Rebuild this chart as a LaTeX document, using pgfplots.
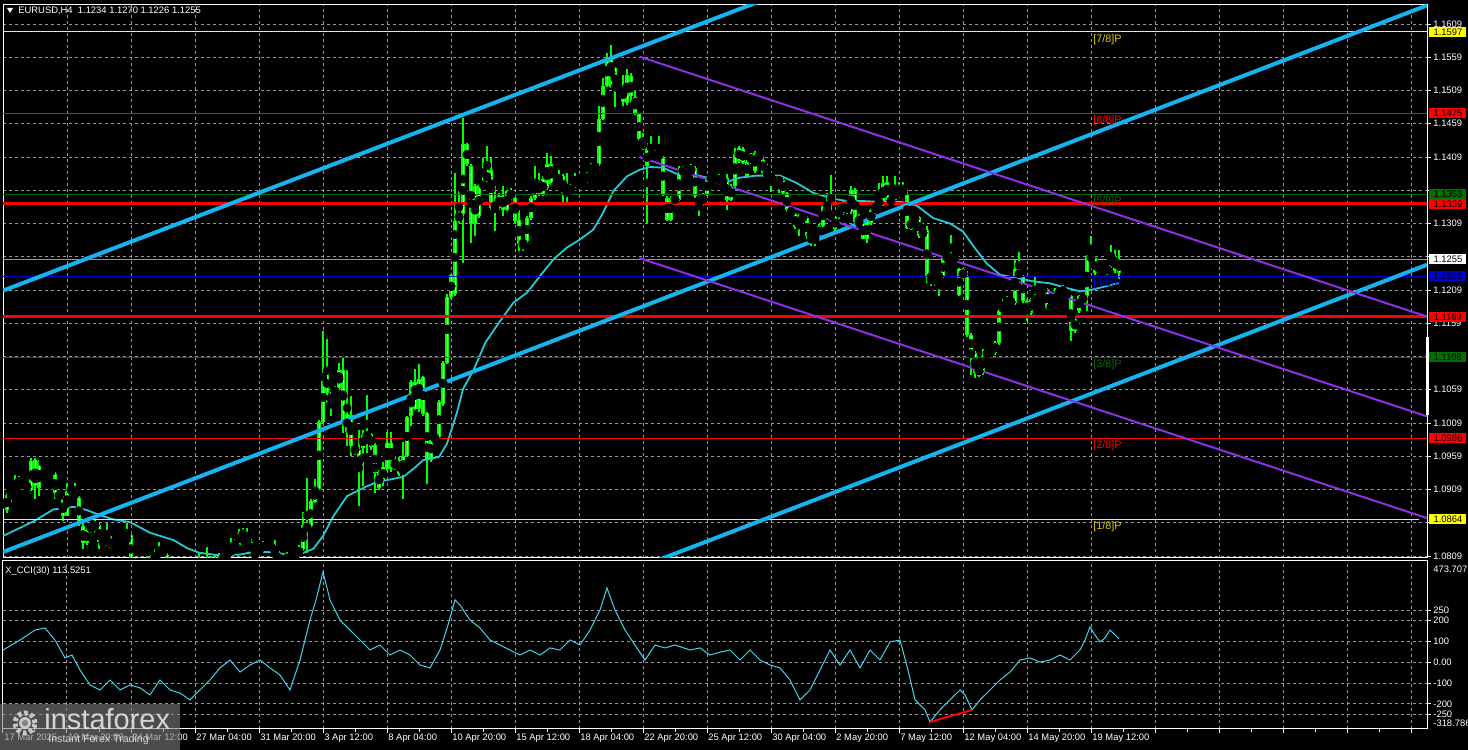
\documentclass[border=0pt]{standalone}
\usepackage{pgfplots}
\pgfplotsset{compat=1.18}
\usepackage{pgfplotstable}
\usepackage{fontspec}
\setmainfont{Liberation Sans}

\definecolor{cgreen}{RGB}{0,255,0}
\definecolor{cpale}{RGB}{200,255,200}
\definecolor{gridc}{RGB}{150,150,160}
\definecolor{macyan}{RGB}{40,200,210}
\definecolor{ccicyan}{RGB}{70,210,235}
\definecolor{tblue}{RGB}{20,180,240}
\definecolor{tpurple}{RGB}{140,50,230}
\definecolor{mgreen}{RGB}{0,110,0}
\definecolor{lblue}{RGB}{0,0,210}
\definecolor{pgray}{RGB}{150,150,150}
\definecolor{myellow}{RGB}{255,255,0}

\newcommand{\mtfont}{\fontsize{4.7}{5.2}\selectfont}
\newcommand{\mfont}{\fontsize{5.4}{6}\selectfont}
\newcommand{\pxy}[2]{({(#1)*0.5pt},{(750-(#2))*0.5pt})}

% EURUSD H4, bar i = 4 px
\pgfplotstableread{
i o h l c
0 1.0881 1.0896 1.0879 1.0894
1 1.0879 1.0904 1.0874 1.0901
2 1.0901 1.0911 1.0889 1.0908
3 1.0906 1.0931 1.0904 1.0916
4 1.0915 1.0929 1.0914 1.0925
5 1.0923 1.0925 1.0914 1.0915
6 1.0916 1.0919 1.0908 1.0910
7 1.0909 1.0956 1.0906 1.0952
8 1.0954 1.0956 1.0894 1.0914
9 1.0912 1.0954 1.0899 1.0952
10 1.0953 1.0955 1.0944 1.0946
11 1.0946 1.0949 1.0936 1.0938
12 1.0940 1.0942 1.0931 1.0933
13 1.0933 1.0935 1.0894 1.0904
14 1.0904 1.0906 1.0894 1.0895
15 1.0895 1.0899 1.0861 1.0870
16 1.0870 1.0919 1.0869 1.0907
17 1.0906 1.0914 1.0904 1.0910
18 1.0906 1.0919 1.0896 1.0898
19 1.0896 1.0899 1.0854 1.0858
20 1.0854 1.0858 1.0819 1.0828
21 1.0828 1.0850 1.0826 1.0848
22 1.0846 1.0859 1.0844 1.0856
23 1.0856 1.0864 1.0844 1.0854
24 1.0856 1.0859 1.0819 1.0830
25 1.0833 1.0836 1.0824 1.0826
26 1.0829 1.0859 1.0824 1.0835
27 1.0835 1.0839 1.0819 1.0821
28 1.0826 1.0829 1.0814 1.0815
29 1.0819 1.0830 1.0816 1.0828
30 1.0829 1.0836 1.0826 1.0833
31 1.0830 1.0859 1.0828 1.0841
32 1.0841 1.0844 1.0794 1.0799
33 1.0804 1.0806 1.0789 1.0791
34 1.0796 1.0808 1.0779 1.0784
35 1.0786 1.0801 1.0781 1.0796
36 1.0794 1.0809 1.0791 1.0801
37 1.0808 1.0811 1.0794 1.0799
38 1.0801 1.0819 1.0796 1.0814
39 1.0806 1.0830 1.0804 1.0820
40 1.0819 1.0821 1.0808 1.0811
41 1.0811 1.0814 1.0791 1.0794
42 1.0794 1.0804 1.0774 1.0779
43 1.0784 1.0794 1.0764 1.0769
44 1.0764 1.0789 1.0759 1.0779
45 1.0784 1.0794 1.0764 1.0769
46 1.0774 1.0799 1.0769 1.0789
47 1.0784 1.0794 1.0764 1.0769
48 1.0779 1.0786 1.0754 1.0764
49 1.0769 1.0814 1.0764 1.0784
50 1.0779 1.0801 1.0774 1.0794
51 1.0784 1.0822 1.0779 1.0799
52 1.0801 1.0809 1.0784 1.0789
53 1.0791 1.0811 1.0786 1.0804
54 1.0799 1.0814 1.0794 1.0809
55 1.0801 1.0814 1.0796 1.0811
56 1.0808 1.0816 1.0804 1.0814
57 1.0811 1.0836 1.0809 1.0821
58 1.0821 1.0834 1.0819 1.0830
59 1.0826 1.0849 1.0824 1.0844
60 1.0844 1.0851 1.0834 1.0836
61 1.0836 1.0851 1.0826 1.0829
62 1.0830 1.0834 1.0811 1.0814
63 1.0819 1.0821 1.0801 1.0806
64 1.0814 1.0824 1.0809 1.0819
65 1.0819 1.0831 1.0816 1.0827
66 1.0828 1.0830 1.0816 1.0819
67 1.0819 1.0829 1.0816 1.0826
68 1.0819 1.0833 1.0804 1.0806
69 1.0811 1.0816 1.0796 1.0801
70 1.0809 1.0814 1.0794 1.0799
71 1.0801 1.0815 1.0796 1.0811
72 1.0811 1.0814 1.0799 1.0804
73 1.0806 1.0816 1.0801 1.0814
74 1.0811 1.0826 1.0806 1.0821
75 1.0819 1.0875 1.0816 1.0855
76 1.0854 1.0926 1.0814 1.0851
77 1.0854 1.0894 1.0851 1.0891
78 1.0891 1.0925 1.0889 1.0910
79 1.0910 1.1014 1.0908 1.1010
80 1.1011 1.1147 1.1009 1.1084
81 1.1083 1.1136 1.1039 1.1054
82 1.1053 1.1055 1.1019 1.1039
83 1.1053 1.1064 1.1049 1.1061
84 1.1061 1.1099 1.1059 1.1089
85 1.1088 1.1109 1.0994 1.1011
86 1.1022 1.1089 1.0974 1.0996
87 1.1021 1.1049 1.0959 1.0974
88 1.0974 1.0976 1.0961 1.0964
89 1.0969 1.0999 1.0884 1.0935
90 1.0971 1.0999 1.0914 1.0991
91 1.0988 1.1051 1.0964 1.0992
92 1.0992 1.0994 1.0969 1.0973
93 1.0976 1.0979 1.0904 1.0934
94 1.0936 1.0939 1.0909 1.0911
95 1.0943 1.0950 1.0915 1.0923
96 1.0940 1.0995 1.0935 1.0979
97 1.0979 1.0995 1.0935 1.0940
98 1.0953 1.0958 1.0938 1.0940
99 1.0953 1.0958 1.0930 1.0933
100 1.0933 1.0980 1.0895 1.0960
101 1.0960 1.1020 1.0958 1.1018
102 1.1019 1.1073 1.1005 1.1071
103 1.1071 1.1091 1.1028 1.1030
104 1.1030 1.1098 1.1025 1.1075
105 1.1078 1.1080 1.1020 1.1023
106 1.1024 1.1026 1.0918 1.0953
107 1.0953 1.0990 1.0950 1.0988
108 1.0985 1.0990 1.0980 1.0988
109 1.0988 1.1043 1.0985 1.1040
110 1.1038 1.1103 1.1035 1.1099
111 1.1100 1.1203 1.1098 1.1199
112 1.1199 1.1233 1.1195 1.1231
113 1.1203 1.1385 1.1200 1.1313
114 1.1313 1.1358 1.1310 1.1325
115 1.1323 1.1468 1.1250 1.1429
116 1.1428 1.1430 1.1395 1.1398
117 1.1395 1.1398 1.1280 1.1308
118 1.1308 1.1368 1.1290 1.1365
119 1.1367 1.1369 1.1318 1.1320
120 1.1365 1.1408 1.1363 1.1369
121 1.1370 1.1425 1.1368 1.1389
122 1.1390 1.1408 1.1330 1.1333
123 1.1338 1.1365 1.1298 1.1333
124 1.1333 1.1355 1.1330 1.1351
125 1.1350 1.1365 1.1320 1.1330
126 1.1330 1.1360 1.1328 1.1358
127 1.1358 1.1363 1.1343 1.1348
128 1.1348 1.1355 1.1310 1.1313
129 1.1315 1.1330 1.1268 1.1278
130 1.1276 1.1285 1.1268 1.1283
131 1.1283 1.1320 1.1280 1.1318
132 1.1318 1.1350 1.1315 1.1348
133 1.1348 1.1395 1.1345 1.1373
134 1.1370 1.1385 1.1350 1.1353
135 1.1353 1.1380 1.1350 1.1376
136 1.1363 1.1415 1.1360 1.1399
137 1.1398 1.1411 1.1367 1.1369
138 1.1369 1.1371 1.1360 1.1363
139 1.1365 1.1390 1.1363 1.1381
140 1.1381 1.1384 1.1340 1.1355
141 1.1353 1.1385 1.1338 1.1358
142 1.1355 1.1368 1.1353 1.1365
143 1.1365 1.1385 1.1363 1.1376
144 1.1375 1.1378 1.1368 1.1370
145 1.1371 1.1376 1.1369 1.1374
146 1.1373 1.1386 1.1370 1.1384
147 1.1385 1.1400 1.1383 1.1396
148 1.1396 1.1399 1.1390 1.1393
149 1.1398 1.1486 1.1395 1.1466
150 1.1466 1.1528 1.1464 1.1516
151 1.1516 1.1565 1.1514 1.1558
152 1.1558 1.1578 1.1513 1.1515
153 1.1543 1.1545 1.1485 1.1510
154 1.1510 1.1515 1.1508 1.1513
155 1.1515 1.1533 1.1485 1.1491
156 1.1490 1.1541 1.1488 1.1533
157 1.1531 1.1535 1.1490 1.1500
158 1.1500 1.1510 1.1473 1.1475
159 1.1473 1.1475 1.1435 1.1436
160 1.1435 1.1445 1.1420 1.1421
161 1.1421 1.1430 1.1310 1.1396
162 1.1408 1.1440 1.1405 1.1415
163 1.1416 1.1420 1.1404 1.1406
164 1.1408 1.1440 1.1405 1.1415
165 1.1408 1.1410 1.1350 1.1353
166 1.1348 1.1350 1.1313 1.1315
167 1.1315 1.1350 1.1313 1.1348
168 1.1343 1.1350 1.1340 1.1348
169 1.1345 1.1395 1.1343 1.1385
170 1.1383 1.1395 1.1380 1.1393
171 1.1390 1.1393 1.1380 1.1383
172 1.1385 1.1398 1.1383 1.1393
173 1.1393 1.1395 1.1348 1.1350
174 1.1348 1.1350 1.1320 1.1338
175 1.1338 1.1355 1.1335 1.1353
176 1.1353 1.1380 1.1350 1.1378
177 1.1375 1.1385 1.1373 1.1380
178 1.1378 1.1383 1.1373 1.1375
179 1.1370 1.1383 1.1368 1.1380
180 1.1375 1.1378 1.1368 1.1370
181 1.1378 1.1383 1.1330 1.1345
182 1.1345 1.1368 1.1343 1.1365
183 1.1365 1.1423 1.1363 1.1414
184 1.1403 1.1425 1.1400 1.1423
185 1.1421 1.1424 1.1398 1.1400
186 1.1401 1.1405 1.1378 1.1380
187 1.1400 1.1415 1.1398 1.1413
188 1.1415 1.1418 1.1385 1.1388
189 1.1408 1.1415 1.1405 1.1413
190 1.1405 1.1412 1.1380 1.1385
191 1.1387 1.1399 1.1380 1.1382
192 1.1385 1.1387 1.1357 1.1372
193 1.1372 1.1377 1.1370 1.1375
194 1.1376 1.1379 1.1355 1.1372
195 1.1375 1.1377 1.1352 1.1355
196 1.1355 1.1357 1.1327 1.1330
197 1.1330 1.1335 1.1320 1.1322
198 1.1323 1.1325 1.1301 1.1304
199 1.1304 1.1324 1.1290 1.1322
200 1.1320 1.1323 1.1315 1.1317
201 1.1317 1.1320 1.1285 1.1290
202 1.1290 1.1296 1.1275 1.1294
203 1.1292 1.1295 1.1275 1.1285
204 1.1290 1.1309 1.1287 1.1305
205 1.1305 1.1339 1.1303 1.1336
206 1.1337 1.1355 1.1317 1.1320
207 1.1319 1.1382 1.1312 1.1323
208 1.1320 1.1322 1.1297 1.1300
209 1.1319 1.1335 1.1316 1.1331
210 1.1325 1.1345 1.1322 1.1342
211 1.1337 1.1339 1.1324 1.1326
212 1.1326 1.1365 1.1324 1.1360
213 1.1360 1.1363 1.1310 1.1312
214 1.1315 1.1324 1.1305 1.1307
215 1.1310 1.1313 1.1285 1.1286
216 1.1286 1.1317 1.1280 1.1315
217 1.1310 1.1332 1.1307 1.1330
218 1.1326 1.1342 1.1324 1.1337
219 1.1337 1.1370 1.1335 1.1345
220 1.1337 1.1380 1.1335 1.1370
221 1.1371 1.1380 1.1342 1.1345
222 1.1345 1.1347 1.1340 1.1342
223 1.1345 1.1380 1.1342 1.1360
224 1.1360 1.1372 1.1350 1.1352
225 1.1352 1.1372 1.1350 1.1362
226 1.1352 1.1360 1.1300 1.1302
227 1.1301 1.1317 1.1299 1.1315
228 1.1312 1.1323 1.1310 1.1321
229 1.1319 1.1321 1.1287 1.1290
230 1.1290 1.1302 1.1287 1.1300
231 1.1300 1.1305 1.1220 1.1227
232 1.1231 1.1233 1.1215 1.1227
233 1.1228 1.1233 1.1215 1.1231
234 1.1231 1.1233 1.1200 1.1228
235 1.1230 1.1260 1.1227 1.1257
236 1.1255 1.1262 1.1253 1.1260
237 1.1260 1.1292 1.1253 1.1255
238 1.1260 1.1262 1.1252 1.1255
239 1.1240 1.1242 1.1200 1.1202
240 1.1227 1.1242 1.1225 1.1240
241 1.1229 1.1237 1.1139 1.1142
242 1.1142 1.1145 1.1082 1.1115
243 1.1115 1.1117 1.1076 1.1085
244 1.1080 1.1097 1.1078 1.1095
245 1.1085 1.1120 1.1082 1.1110
246 1.1110 1.1120 1.1107 1.1117
247 1.1119 1.1121 1.1112 1.1115
248 1.1115 1.1132 1.1112 1.1130
249 1.1130 1.1180 1.1127 1.1177
250 1.1177 1.1195 1.1175 1.1186
251 1.1186 1.1200 1.1184 1.1195
252 1.1193 1.1196 1.1187 1.1190
253 1.1190 1.1255 1.1187 1.1240
254 1.1240 1.1267 1.1225 1.1227
255 1.1229 1.1232 1.1190 1.1192
256 1.1192 1.1195 1.1162 1.1175
257 1.1175 1.1197 1.1172 1.1195
258 1.1192 1.1229 1.1190 1.1197
259 1.1205 1.1212 1.1202 1.1210
260 1.1212 1.1220 1.1205 1.1207
261 1.1210 1.1212 1.1180 1.1182
262 1.1182 1.1187 1.1180 1.1185
263 1.1185 1.1212 1.1182 1.1195
264 1.1202 1.1210 1.1200 1.1207
265 1.1207 1.1217 1.1200 1.1202
266 1.1206 1.1208 1.1197 1.1200
267 1.1200 1.1202 1.1132 1.1147
268 1.1147 1.1168 1.1145 1.1166
269 1.1177 1.1202 1.1175 1.1200
270 1.1200 1.1202 1.1190 1.1192
271 1.1200 1.1262 1.1177 1.1260
272 1.1260 1.1290 1.1252 1.1255
273 1.1257 1.1260 1.1232 1.1235
274 1.1239 1.1246 1.1236 1.1244
275 1.1241 1.1244 1.1229 1.1235
276 1.1235 1.1247 1.1232 1.1245
277 1.1245 1.1277 1.1242 1.1260
278 1.1260 1.1270 1.1235 1.1237
279 1.1234 1.1270 1.1226 1.1255
}\candles

\begin{document}
\begin{tikzpicture}
\path[use as bounding box, fill=black] (0,0) rectangle (734pt,375pt);

% ---------------- price panel ----------------
\begin{axis}[
    at={(1.5pt,96pt)}, anchor=south west,
    scale only axis, width=712pt, height=276.5pt,
    xmin=0, xmax=356, ymin=1.0806, ymax=1.16376,
    axis line style={white, line width=0.5pt},
    xtick={0,16,...,352}, xticklabels={}, xmajorticks=false,
    ytick={1.0809,1.0859,1.0909,1.0959,1.1009,1.1059,1.1109,1.1159,1.1209,1.1259,1.1309,1.1359,1.1409,1.1459,1.1509,1.1559,1.1609},
    yticklabels={1.0809,,1.0909,1.0959,1.1009,1.1059,,1.1159,1.1209,,1.1309,,1.1409,1.1459,1.1509,1.1559,1.1609},
    ytick pos=right, yticklabel pos=right,
    tick align=outside, major tick length=2pt,
    tick style={white, line width=0.5pt},
    grid=major,
    major grid style={gridc, line width=0.5pt, dash pattern=on 1.5pt off 1.5pt},
    yticklabel style={font=\mtfont, text=white, inner sep=0pt, xshift=1pt},
]
% wicks
\addplot[only marks, mark=none, forget plot,
    error bars/.cd, y dir=both, y explicit, error mark=none,
    error bar style={draw=cgreen, line width=0.65pt, solid}]
    table[x=i, y expr={(\thisrow{h}+\thisrow{l})/2}, y error expr={(\thisrow{h}-\thisrow{l})/2}] {\candles};
% bodies
\addplot[only marks, mark=none, forget plot,
    error bars/.cd, y dir=both, y explicit, error mark=none,
    error bar style={draw=cgreen, line width=1.6pt, solid}]
    table[x=i, y expr={(\thisrow{o}+\thisrow{c})/2}, y error expr={max(abs(\thisrow{c}-\thisrow{o})/2,0.0001)}] {\candles};
\addplot[only marks, mark=none, forget plot,
    error bars/.cd, y dir=both, y explicit, error mark=none,
    error bar style={draw=cpale, line width=0.45pt, solid}]
    table[x=i, y expr={(\thisrow{o}+\thisrow{c})/2}, y error expr={max(abs(\thisrow{c}-\thisrow{o})/2-0.00015,0)}] {\candles};

% moving average
\addplot[macyan, line width=0.9pt, mark=none] coordinates {
(0,1.0839) (7.6,1.0861) (12.6,1.0879) (17.6,1.0883) (21,1.0878) (24,1.0871) (27.6,1.0864)
(31.75,1.0860) (36.75,1.0844) (42.6,1.0833) (46,1.0821) (49,1.0814) (54,1.0810) (59,1.0811)
(62.6,1.0815) (67.6,1.0815) (71,1.0811) (74,1.0811) (77.6,1.0820) (80,1.0839) (82.6,1.0869)
(86,1.0899) (91,1.0914) (93.4,1.0920) (100,1.0928) (102.6,1.0940) (105,1.0953) (109,1.0958)
(111,1.0978) (113.5,1.1025) (115,1.1060) (117.75,1.1090) (120.6,1.1130) (124,1.1160)
(127.6,1.1190) (131,1.1205) (134.25,1.1230) (137.6,1.1255) (141,1.1273) (144.25,1.1285)
(147.6,1.1300) (150,1.1325) (152.6,1.1358) (156,1.1380) (159.25,1.1390) (161.75,1.1394)
(165,1.1393) (168.25,1.1384) (172.6,1.1383) (176,1.1378) (180,1.1376) (181.75,1.1373)
(184.25,1.1378) (188.4,1.1381) (194.25,1.1381) (198.4,1.1370) (202.6,1.1355) (207.6,1.1346)
(210.9,1.1343) (214.25,1.1343) (217.6,1.1342) (220.9,1.1343) (225,1.1341) (228.4,1.1336)
(232.6,1.1317) (236.75,1.1309) (240,1.1297) (242.6,1.1275) (245.9,1.1249) (249.25,1.1232)
(253.4,1.1227) (257.6,1.1222) (261.75,1.1219) (266,1.1212) (269.25,1.1207) (272.6,1.1210)
(276,1.1215) (279,1.1220)};

% horizontal levels
\addplot[myellow, line width=0.5pt] coordinates {(0,1.1597) (356,1.1597)};
\addplot[red, line width=0.5pt] coordinates {(0,1.1475) (356,1.1475)};
\addplot[mgreen, line width=0.5pt] coordinates {(0,1.1353) (356,1.1353)};
\addplot[red, line width=1.8pt] coordinates {(0,1.1339) (356,1.1339)};
\addplot[pgray, line width=0.5pt] coordinates {(0,1.1255) (356,1.1255)};
\addplot[lblue, line width=0.5pt] coordinates {(0,1.1230) (356,1.1230)};
\addplot[red, line width=1.8pt] coordinates {(0,1.1169) (356,1.1169)};
\addplot[mgreen, line width=0.5pt] coordinates {(0,1.1108) (356,1.1108)};
\addplot[red, line width=0.5pt] coordinates {(0,1.0986) (356,1.0986)};
\addplot[myellow, line width=0.5pt] coordinates {(0,1.0864) (354,1.0864)};

% trend channel (blue)
\addplot[tblue, line width=2pt] coordinates {(0,1.1208) (200,1.1668)};
\addplot[tblue, line width=2pt] coordinates {(0,1.0815) (356,1.1637)};
\addplot[tblue, line width=2pt] coordinates {(150,1.0771) (356,1.1247)};
% descending channel (purple)
\addplot[tpurple, line width=1pt] coordinates {(159.1,1.1560) (356,1.1169)};
\addplot[tpurple, line width=1pt] coordinates {(159.1,1.1409) (356,1.1019)};
\addplot[tpurple, line width=1pt] coordinates {(159.1,1.1257) (356,1.0866)};

% Murrey labels
\node[anchor=north west, inner sep=0pt, font=\mfont, text={rgb,255:red,220;green,200;blue,0}] at (axis cs:272.5,1.1594) {[7/8]P};
\node[anchor=north west, inner sep=0pt, font=\mfont, text=red] at (axis cs:272.5,1.1472) {[6/8]P};
\node[anchor=north west, inner sep=0pt, font=\mfont, text=mgreen] at (axis cs:272.5,1.1350) {[5/8]P};
\node[anchor=north west, inner sep=0pt, font=\mfont, text=lblue] at (axis cs:272.5,1.1227) {[4/8]P};
\node[anchor=north west, inner sep=0pt, font=\mfont, text=mgreen] at (axis cs:272.5,1.1105) {[3/8]P};
\node[anchor=north west, inner sep=0pt, font=\mfont, text=red] at (axis cs:272.5,1.0983) {[2/8]P};
\node[anchor=north west, inner sep=0pt, font=\mfont, text={rgb,255:red,220;green,200;blue,0}] at (axis cs:272.5,1.0861) {[1/8]P};
\end{axis}

% ---------------- CCI panel ----------------
\begin{axis}[
    at={(1.5pt,10.5pt)}, anchor=south west,
    scale only axis, width=712pt, height=84pt,
    xmin=0, xmax=356, ymin=-320.7, ymax=487,
    axis line style={white, line width=0.5pt},
    xtick={0,16,...,352},
    xticklabels={17 Mar 2025,19 Mar 20:00,24 Mar 12:00,27 Mar 04:00,31 Mar 20:00,3 Apr 12:00,8 Apr 04:00,10 Apr 20:00,15 Apr 12:00,18 Apr 04:00,22 Apr 20:00,25 Apr 12:00,30 Apr 04:00,2 May 20:00,7 May 12:00,12 May 04:00,14 May 20:00,19 May 12:00,,,,,},
    minor x tick num=1,
    xtick pos=bottom, ytick pos=right, yticklabel pos=right,
    ytick={-250,-200,-100,0,100,200,250},
    yticklabels={-250,-200,-100,0.00,100,200,250},
    tick align=outside, major tick length=2pt, minor tick length=1.5pt,
    tick style={white, line width=0.5pt},
    grid=major,
    major grid style={gridc, line width=0.5pt, dash pattern=on 1.5pt off 1.5pt},
    yticklabel style={font=\mtfont, text=white, inner sep=0pt, xshift=1pt},
    xticklabel style={font=\mtfont, text=white, inner sep=0pt, anchor=north west, xshift=0.5pt, yshift=-0.5pt},
]
\addplot[ccicyan, line width=0.5pt, mark=none] coordinates {
(0,59) (4.25,107) (8,155) (10.5,165) (13,107) (15.5,21) (17.25,35) (19.25,-37) (21.75,-109)
(24.25,-133) (26.75,-85) (29.25,-133) (31.75,-109) (34.25,-123) (36.75,-157) (39.25,-85)
(41.75,-133) (44.25,-148) (46.75,-181) (49.25,-133) (51.75,-85) (54.25,-27) (56.75,11)
(59.25,-47) (61.75,-13) (64.25,11) (66.75,-27) (69.25,-61) (71.75,-133) (74.25,11)
(76.75,203) (78.25,300) (80,434) (81.75,300) (84.25,203) (86.75,155) (89.25,107) (91.75,59)
(94.25,83) (96.75,35) (99.25,59) (101.75,35) (104.25,-13) (106.75,-27) (109.25,59)
(111.25,179) (113,300) (114.25,275) (116.75,203) (119.25,165) (121.75,107) (124.25,83)
(126.75,59) (129.25,35) (131.75,59) (134.25,35) (136.75,69) (139.25,59) (141.75,107)
(144.25,83) (146.75,155) (149.25,251) (151,357) (153,251) (155.5,155) (158,83) (160.5,11)
(163,83) (165.5,69) (168,83) (171.75,59) (174.25,69) (176.75,35) (179.25,49) (181.75,59)
(184.25,11) (186.75,59) (189.25,11) (191.75,-13) (194.25,-27) (196.75,-85) (199.25,-181)
(201.75,-133) (204.25,-37) (206.75,59) (209.25,-13) (211.75,59) (214.25,-27) (216.75,59)
(219.25,11) (221.75,98) (224.25,107) (226.25,-37) (228,-181) (230.5,-229) (231.75,-287)
(234.25,-229) (236.75,-181) (239.25,-133) (240.5,-157) (242.25,-229) (244.25,-181)
(246.75,-133) (249.25,-85) (251.75,-47) (254.25,11) (256.75,21) (259.25,1) (261.75,11)
(264.25,35) (266.75,11) (269.25,59) (270.5,107) (271.75,170) (273,131) (274.25,98)
(275.5,117) (276.75,155) (279,113.5)};
\addplot[red, line width=1pt, mark=none] coordinates {(231.75,-287) (242.25,-229)};
\end{axis}

% ---------------- annotations ----------------
\fill[white] \pxy{7}{8} -- \pxy{13}{8} -- \pxy{10}{13} -- cycle;
\node[anchor=west, inner sep=0pt, font=\mtfont, text=white] at \pxy{18}{11} {EURUSD,H4\ \ 1.1234 1.1270 1.1226 1.1255};
\node[anchor=west, inner sep=0pt, font=\mtfont, text=white] at \pxy{5}{571} {X\_CCI(30) 113.5251};
\node[anchor=west, inner sep=0pt, font=\mtfont, text=white] at \pxy{1433}{569} {473.707};
\node[anchor=west, inner sep=0pt, font=\mtfont, text=white] at \pxy{1433}{723} {-318.786};

% price boxes
\tikzset{pbox/.style={anchor=west, inner sep=0pt, minimum width=18.5pt, minimum height=5.2pt, font=\mtfont, text=black}}
\node[pbox, fill=myellow] at \pxy{1429}{32} {1.1597};
\node[pbox, fill=red] at \pxy{1429}{113} {1.1475};
\node[pbox, fill=mgreen] at \pxy{1429}{194} {1.1353};
\node[pbox, fill=red] at \pxy{1429}{204} {1.1339};
\node[pbox, fill=white] at \pxy{1429}{259} {1.1255};
\node[pbox, fill=lblue] at \pxy{1429}{276} {1.1230};
\node[pbox, fill=red] at \pxy{1429}{317} {1.1169};
\node[pbox, fill=mgreen] at \pxy{1429}{357} {1.1108};
\node[pbox, fill=red] at \pxy{1429}{438} {1.0986};
\node[pbox, fill=myellow] at \pxy{1429}{519} {1.0864};
\fill[white] \pxy{1426}{337} rectangle \pxy{1429}{415};

% watermark
\fill[gray, opacity=0.6] \pxy{0}{704} rectangle \pxy{180}{750};
\draw[white!80!gray, opacity=0.8, line width=2.5pt, dash pattern=on 1.8pt off 1.4pt] \pxy{25}{723} circle (5pt);
\fill[white!80!gray, opacity=0.8] \pxy{25}{723} circle (3pt);
\fill[gray] \pxy{25}{723} circle (1.5pt);
\node[anchor=west, inner sep=0pt, font=\fontsize{14.5}{15}\selectfont, text=white!85!gray, opacity=0.85] at \pxy{44}{719} {instaforex};
\node[anchor=west, inner sep=0pt, font=\fontsize{5.3}{6}\selectfont, text=white!85!gray, opacity=0.85] at \pxy{48}{740} {Instant Forex Trading};
\end{tikzpicture}
\end{document}
